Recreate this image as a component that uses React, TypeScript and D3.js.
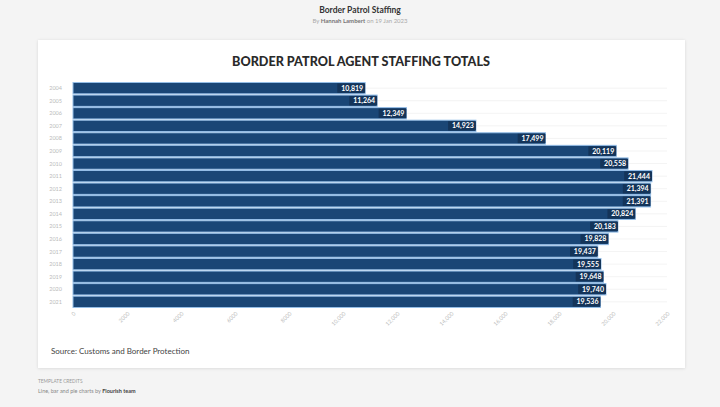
import { scaleBand, scaleLinear } from "d3";

const years = [
  "2004", "2005", "2006", "2007", "2008", "2009", "2010", "2011", "2012",
  "2013", "2014", "2015", "2016", "2017", "2018", "2019", "2020", "2021",
];
const agents = [
  10819, 11264, 12349, 14923, 17499, 20119, 20558, 21444, 21394,
  21391, 20824, 20183, 19828, 19437, 19555, 19648, 19740, 19536,
];
const tickValues = [0, 2000, 4000, 6000, 8000, 10000, 12000, 14000, 16000, 18000, 20000, 22000];
const tickLabels = ["0", "2000", "4000", "6000", "8000", "10,000", "12,000", "14,000", "16,000", "18,000", "20,000", "22,000"];

const font = "Lato, 'Noto Sans', sans-serif";

export default function App() {
  const width = 720;
  const height = 407;
  const x = scaleLinear().domain([0, 22000]).range([73, 667]);
  const y = scaleBand<string>().domain(years).range([82.5, 307.5]).paddingInner(0.1);
  const fmt = (v: number) => v.toLocaleString("en-US");

  return (
    <svg
      width={width}
      height={height}
      viewBox={`0 0 ${width} ${height}`}
      style={{ position: "absolute", left: 0, top: 0, fontFamily: font }}
    >
      <defs>
        <filter id="shadow" x="-5%" y="-5%" width="110%" height="110%">
          <feDropShadow dx="0" dy="0.5" stdDeviation="1.5" floodColor="#000" floodOpacity="0.12" />
        </filter>
      </defs>
      <rect width={width} height={height} fill="#f4f4f4" />
      <text x={360} y={13} textAnchor="middle" fontSize="8.5" fontWeight="700" fill="#333">
        Border Patrol Staffing
      </text>
      <text x={360} y={23} textAnchor="middle" fontSize="6" fill="#aaa">
        By <tspan fill="#777" fontWeight="700">Hannah Lambert</tspan> on 19 Jan 2023
      </text>

      <rect x={38} y={40} width={647} height={328} fill="#fff" filter="url(#shadow)" />
      <text x={361} y={66} textAnchor="middle" fontSize="12.6" fontWeight="900" fill="#2a2a2a">
        BORDER PATROL AGENT STAFFING TOTALS
      </text>

      {years.map((yr) => (
        <line
          key={`g${yr}`}
          x1={x(0)}
          x2={x(22000)}
          y1={(y(yr) ?? 0) + y.bandwidth() / 2}
          y2={(y(yr) ?? 0) + y.bandwidth() / 2}
          stroke="#eee"
          strokeWidth="0.7"
        />
      ))}

      {years.map((yr, i) => {
        const by = y(yr) ?? 0;
        const bh = y.bandwidth();
        const end = x(agents[i]);
        const label = fmt(agents[i]);
        const boxW = label.length * 4.3 + 2;
        return (
          <g key={yr}>
            <text x={62} y={by + bh / 2 + 2} textAnchor="end" fontSize="5.5" fill="#bbb">
              {yr}
            </text>
            <rect
              x={x(0)}
              y={by}
              width={end - x(0)}
              height={bh}
              fill="#1a4676"
              stroke="#94bde6"
              strokeWidth="1"
            />
            <rect x={end - boxW} y={by + 1} width={boxW} height={bh - 2} fill="#143459" />
            <text
              x={end - 2}
              y={by + bh / 2 + 2.5}
              textAnchor="end"
              fontSize="7"
              fontWeight="700"
              fill="#fff"
            >
              {label}
            </text>
          </g>
        );
      })}

      {tickValues.map((t, i) => (
        <text
          key={t}
          transform={`translate(${x(t) + 3},${314}) rotate(-45)`}
          textAnchor="end"
          fontSize="5.5"
          fill="#bdbdbd"
        >
          {tickLabels[i]}
        </text>
      ))}

      <text x={51} y={354} fontSize="8" fill="#444">
        Source: Customs and Border Protection
      </text>

      <text x={38} y={383} fontSize="4.8" fill="#999">
        TEMPLATE CREDITS
      </text>
      <text x={38} y={393} fontSize="5.5" fill="#888">
        Line, bar and pie charts by <tspan fill="#444" fontWeight="700">Flourish team</tspan>
      </text>
    </svg>
  );
}
